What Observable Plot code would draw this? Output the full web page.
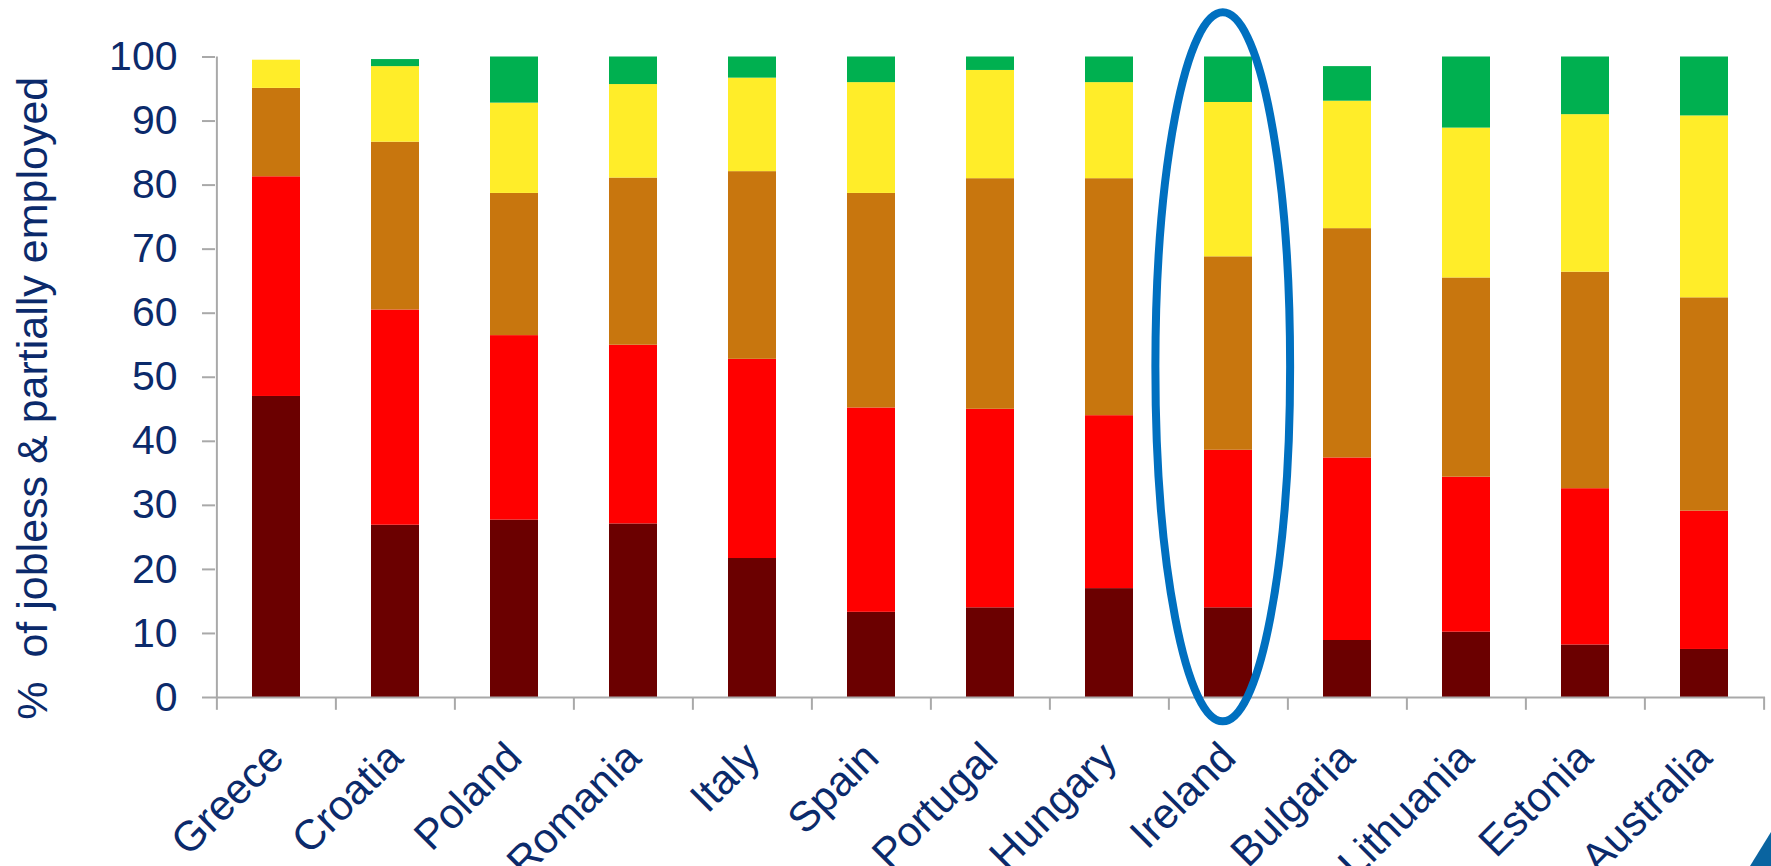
<!DOCTYPE html>
<html>
<head>
<meta charset="utf-8">
<script src="https://cdn.jsdelivr.net/npm/d3@7"></script>
<script src="https://cdn.jsdelivr.net/npm/@observablehq/plot@0.6"></script>
<style>
  html, body { margin: 0; padding: 0; background: #fff; }
  #wrap { position: relative; width: 1771px; height: 866px; overflow: hidden; }
  #corner { position: absolute; right: 0; bottom: 0; width: 21px; height: 34px;
            background: #0a64a0; clip-path: polygon(100% 0, 100% 100%, 0 100%); }
</style>
</head>
<body>
<div id="wrap"><div id="corner"></div></div>
<script>
const countries = ["Greece","Croatia","Poland","Romania","Italy","Spain","Portugal","Hungary","Ireland","Bulgaria","Lithuania","Estonia","Australia"];
const seriesNames = ["Group 1","Group 2","Group 3","Group 4","Group 5"];
const group1 = [47.0, 26.9, 27.7, 27.1, 21.7, 13.3, 14.0, 17.0, 14.0, 8.9, 10.2, 8.2, 7.5];
const group2 = [34.3, 33.6, 28.8, 27.9, 31.1, 31.9, 31.0, 27.0, 24.6, 28.5, 24.2, 24.4, 21.6];
const group3 = [13.8, 26.2, 22.2, 26.1, 29.3, 33.5, 36.0, 37.0, 30.2, 35.8, 31.1, 33.8, 33.3];
const group4 = [4.4, 11.8, 14.1, 14.6, 14.6, 17.3, 16.9, 15.0, 24.1, 19.9, 23.4, 24.6, 28.4];
const group5 = [0.0, 1.1, 7.2, 4.3, 3.3, 4.0, 2.1, 4.0, 7.1, 5.4, 11.1, 9.0, 9.2];
const yTicks = [0,10,20,30,40,50,60,70,80,90,100];
const yTitle = "%\u00a0 of jobless & partially employed";
const highlighted = "Ireland";

const colors = ["#6b0000","#ff0000","#c8760e","#ffed29","#00b050"];
const navy = "#0b2a6b";
const grey = "#a9a9a9";

const seriesValues = [group1, group2, group3, group4, group5];
const rows = [];
seriesNames.forEach((s, si) => countries.forEach((c, ci) => rows.push({country: c, series: s, value: seriesValues[si][ci]})));

const W = 1771, H = 866, mL = 215, mR = 6, mT = 56.5, mB = 169;
const step = (W - mL - mR) / countries.length;

// annotation ellipse around the highlighted country (in data units)
const ellTop = 106.9, ellBottom = -3.8, ellHalfWidthSteps = 0.565, ellOffsetSteps = -0.044;

const ellipseMark = (index, scales) => {
  const x = scales.x, y = scales.y;
  const bw = typeof x.bandwidth === "function" ? x.bandwidth() : (x.bandwidth || 0);
  const cx = x(highlighted) + bw / 2 + ellOffsetSteps * step;
  const yt = y(ellTop), yb = y(ellBottom);
  const e = document.createElementNS("http://www.w3.org/2000/svg", "ellipse");
  e.setAttribute("cx", cx);
  e.setAttribute("cy", (yt + yb) / 2);
  e.setAttribute("rx", ellHalfWidthSteps * step);
  e.setAttribute("ry", Math.abs(yb - yt) / 2);
  e.setAttribute("fill", "none");
  e.setAttribute("stroke", "#0070c0");
  e.setAttribute("stroke-width", 8);
  return e;
};

const chart = Plot.plot({
  width: W, height: H,
  marginLeft: mL, marginRight: mR, marginTop: mT, marginBottom: mB,
  style: {fontFamily: "'Liberation Sans', Arial, sans-serif", color: navy, background: "transparent", overflow: "visible"},
  x: {domain: countries, paddingInner: 0.6, paddingOuter: 0.3, label: null},
  y: {domain: [0, 100], label: null},
  color: {domain: seriesNames, range: colors},
  marks: [
    Plot.barY(rows, {x: "country", y: "value", fill: "series"}),
    Plot.ruleY([0], {stroke: grey, strokeWidth: 2}),
    Plot.ruleX([countries[0]], {y1: 0, y2: 100, dx: -step / 2, stroke: grey, strokeWidth: 2}),
    Plot.ruleX(countries, {y1: 0, y2: -2, dx: -step / 2, stroke: grey, strokeWidth: 2}),
    Plot.ruleX([countries[countries.length - 1]], {y1: 0, y2: -2, dx: step / 2, stroke: grey, strokeWidth: 2}),
    Plot.axisY({ticks: yTicks, tickSize: 13, tickFormat: () => "", stroke: grey, strokeWidth: 2, label: null}),
    Plot.axisY({ticks: yTicks, tickSize: 0, tickPadding: 38, fontSize: 41, fill: navy, label: null}),
    Plot.axisX({tickSize: 0, tickRotate: -45, tickPadding: 53, fontSize: 42, fill: navy, label: null}),
    Plot.text([yTitle], {frameAnchor: "left", textAnchor: "middle", lineAnchor: "middle", rotate: -90, dx: -182, dy: 21, fontSize: 43, fill: navy}),
    ellipseMark
  ]
});
document.getElementById("wrap").prepend(chart);
</script>
</body>
</html>
